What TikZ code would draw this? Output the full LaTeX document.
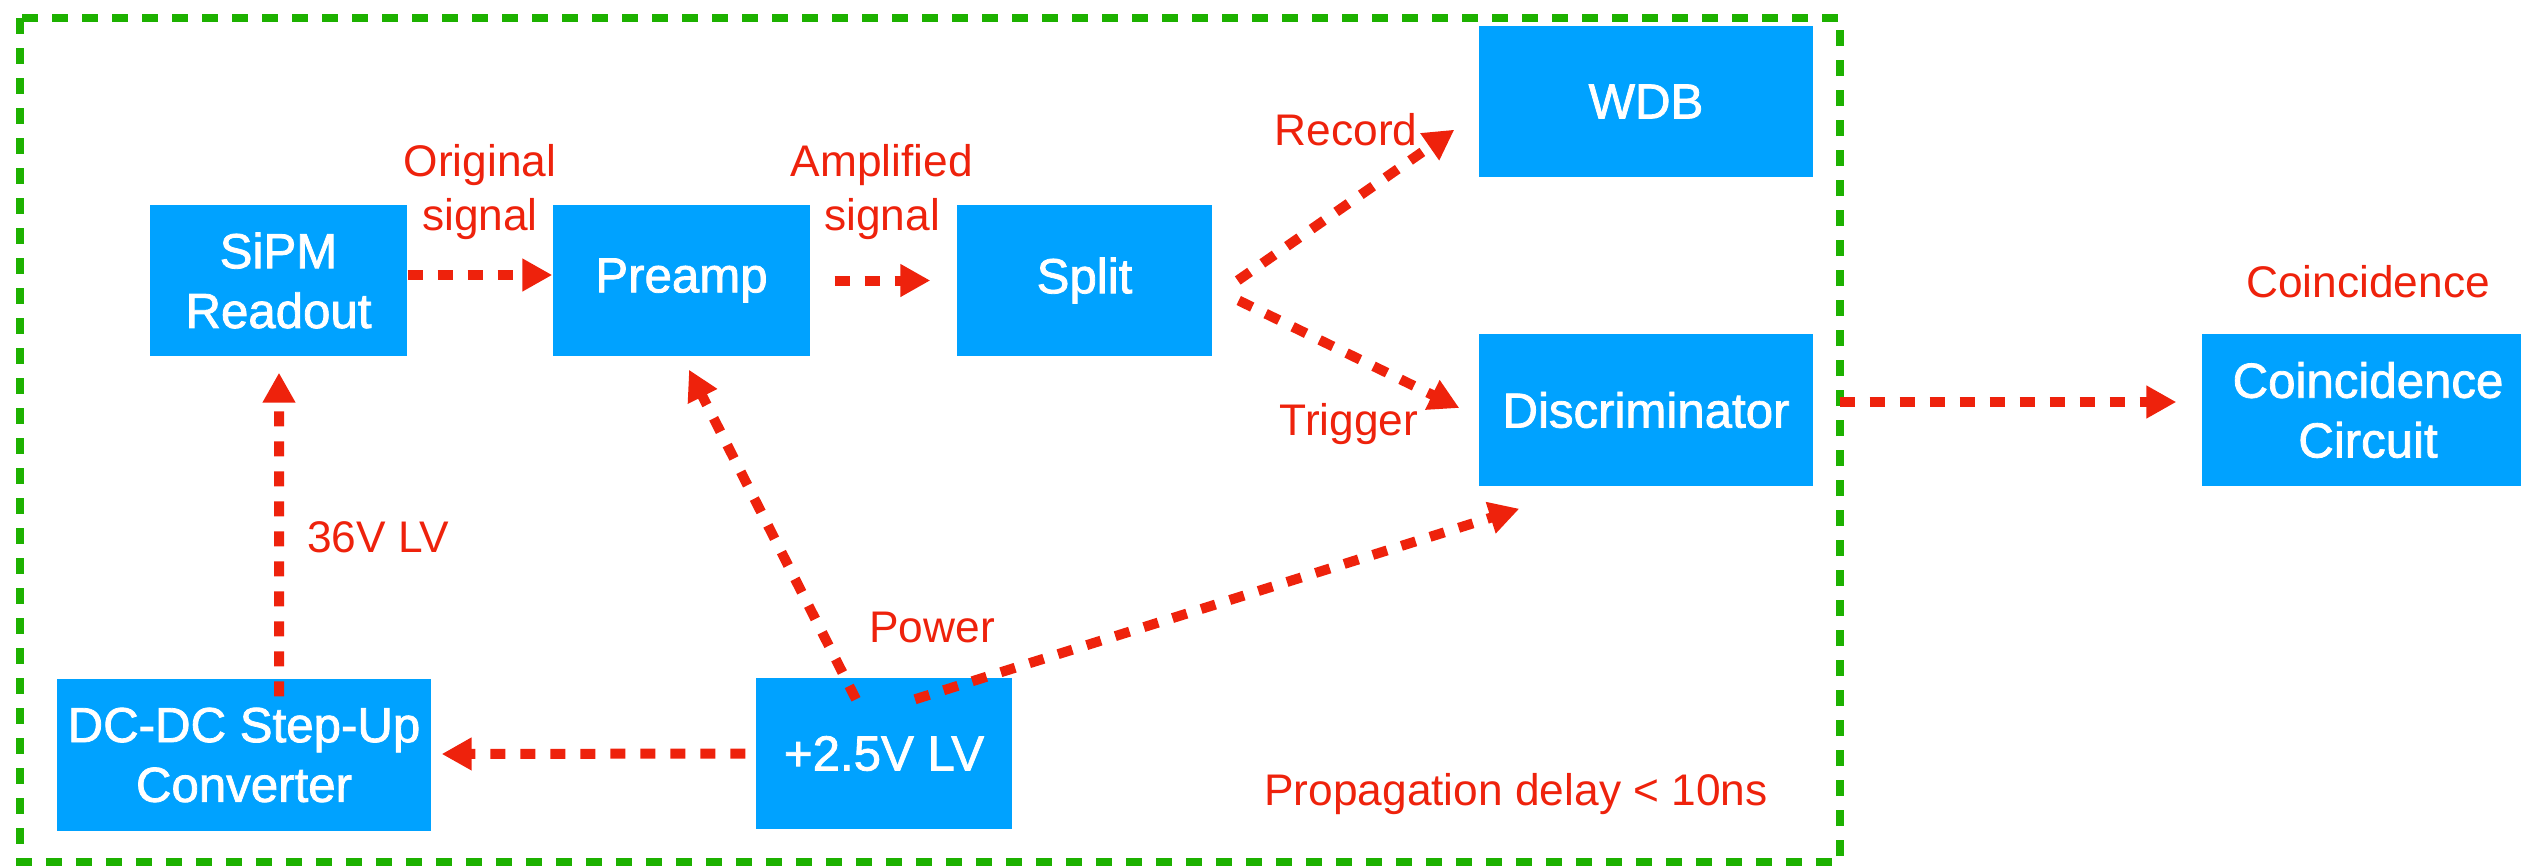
\documentclass[tikz,border=0pt]{standalone}
\usepackage{fontspec}
\setmainfont{Liberation Sans}
\newfontfamily\medfont[FakeBold=1.6]{Liberation Sans}
\usetikzlibrary{arrows.meta,calc}
\definecolor{kblue}{HTML}{00A2FF}
\definecolor{kred}{HTML}{EE220C}
\definecolor{kgreen}{HTML}{1DB100}
\begin{document}
\begin{tikzpicture}[x=0.1mm,y=-0.1mm,
 blk/.style={fill=kblue, draw=none, inner sep=0, text=white, align=center, font=\medfont\fontsize{14}{17}\selectfont},
 lbl/.style={text=kred, inner sep=0, align=center, font=\fontsize{12.6}{15.6}\selectfont},
 sig/.style={draw=kred, line width=1mm, dash pattern=on 1.5mm off 1.5mm, -{Triangle[length=3mm,width=3.1mm]}},
 frame/.style={draw=kgreen, line width=0.8mm, dash pattern=on 1.6mm off 1.4mm}]
\useasboundingbox (0,0) rectangle (2521,865);
\draw[frame] (20,18) rectangle (1840,862);

\node[blk, minimum width=25.7mm, minimum height=15.1mm] (sipm) at (278.5,280.5) {SiPM\\Readout};
\node[blk, minimum width=25.7mm, minimum height=15.1mm] (preamp) at (681.5,280.5) {Preamp};
\node[blk, minimum width=25.5mm, minimum height=15.1mm] (split) at (1084.5,280.5) {Split};
\node[blk, minimum width=33.4mm, minimum height=15.1mm] (wdb) at (1646,101.5) {WDB};
\node[blk, minimum width=33.4mm, minimum height=15.2mm] (disc) at (1646,410) {Discriminator};
\node[blk, minimum width=33.2mm, minimum height=15.2mm] (coinc) at (2368,410) {Coincidence\\Circuit};
\node[blk, minimum width=37.4mm, minimum height=15.2mm] (dcdc) at (244,755) {DC-DC Step-Up\\Converter};
\node[blk, minimum width=25.6mm, minimum height=15.1mm] (pwr) at (884,753.5) {+2.5V LV};

\draw[sig] ($(sipm.east)+(0,-5.5)$) -- ($(preamp.west)+(0,-5.5)$);
\draw[sig] ($(preamp.east)+(24,0)$) -- ($(split.west)+(-26,0)$);
\draw[sig] ($(split.east)+(25,0)$) -- ($(wdb.south west)+(-24,-48)$);
\draw[sig] ($(split.east)+(26,20)$) -- ($(disc.west)+(-19,-2)$);
\draw[sig] ($(disc.east)+(26,-8)$) -- ($(coinc.west)+(-25,-8)$);
\draw[sig] ($(pwr.north)+(-28,22)$) -- ($(preamp.south)+(7.5,13)$);
\draw[sig] ($(pwr.north)+(31,22)$) -- ($(disc.south west)+(41,22)$);
\draw[sig] ($(pwr.west)+(-10,0)$) -- ($(dcdc.east)+(10,-1)$);
\draw[sig] ($(dcdc.north)+(35,18)$) -- ($(sipm.south)+(0.5,16)$);

\node[lbl] (l1) at (480,192) {Original\\signal};
\node[lbl] (l2) at (882,192) {Amplified\\signal};
\node[lbl] (l3) at (1346,130) {Record};
\node[lbl] (l4) at (1349,424) {Trigger};
\node[lbl] (l5) at (378,537) {36V LV};
\node[lbl] (l6) at (932,627) {Power};
\node[lbl] (l7) at (2368,282) {Coincidence};
\node[lbl] (l8) at (1516,794) {Propagation delay < 10ns};
\end{tikzpicture}
\end{document}
